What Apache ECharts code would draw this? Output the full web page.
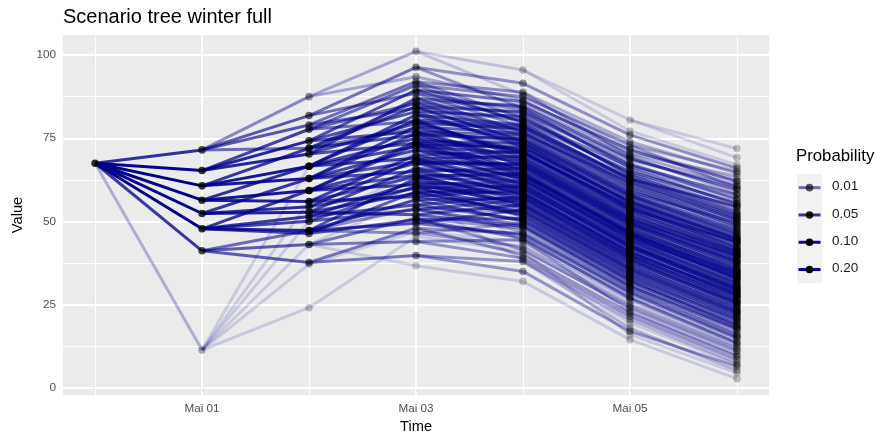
<!DOCTYPE html>
<html>
<head>
<meta charset="utf-8">
<script src="https://cdn.jsdelivr.net/npm/echarts@6/dist/echarts.min.js"></script>
<style>
  html, body { margin: 0; padding: 0; background: #ffffff; }
  #chart { width: 877px; height: 436px; }
</style>
</head>
<body>
<div id="chart"></div>
<script>
// ---- Stages of the tree (x = day offset from the first stage) ----
const stageNames = ['Apr 30', 'Mai 01', 'Mai 02', 'Mai 03', 'Mai 04', 'Mai 05', 'Mai 06'];
const xTickStages = ['Mai 01', 'Mai 03', 'Mai 05'];
const yTicks = [0, 25, 50, 75, 100];
const yMinorTicks = [12.5, 37.5, 62.5, 87.5];

// ---- Node values; each inner list holds the children of one node of the previous stage ----
const rootValue = 67.5;

const mai01 = [[71.5, 65.3, 60.7, 56.4, 52.4, 47.8, 41.2, 11.4]];
const mai01Prob = [[0.05, 0.15, 0.20, 0.20, 0.158, 0.20, 0.04, 0.002]];

const mai02 = [
  [87.5, 81.8, 79.0, 72.0],
  [77.7, 74.2, 70.3],
  [72.0, 66.6, 62.9],
  [66.6, 59.3, 56.0],
  [62.9, 54.4, 52.8],
  [59.3, 51.5, 50.1, 47.3, 46.4],
  [47.3, 43.1, 37.7],
  [66.6, 56.0, 50.1, 43.1, 37.2, 24.1]
];
const mai02Prob = [
  [0.005, 0.017, 0.018, 0.01],
  [0.03, 0.06, 0.06],
  [0.04, 0.08, 0.08],
  [0.05, 0.08, 0.07],
  [0.04, 0.05, 0.068],
  [0.04, 0.04, 0.03, 0.06, 0.03],
  [0.01, 0.015, 0.015],
  [0.0003, 0.0003, 0.0003, 0.0003, 0.0004, 0.0004]
];

const mai03 = [
  [101.1, 93.5], [96.3, 88.5], [92.0, 84.0], [86.0, 78.0],
  [91.0, 85.5, 80.0], [89.5, 83.0, 77.0], [87.0, 79.5, 73.5],
  [84.5, 76.0], [82.0, 75.0, 69.0], [78.5, 71.5, 65.0],
  [80.5, 72.5], [74.0, 67.5, 61.0], [70.0, 63.5, 57.5],
  [76.5, 68.0], [68.5, 60.0], [66.0, 58.5, 52.0],
  [73.0, 64.0], [62.0, 55.0], [60.5, 53.5], [63.0, 56.5, 49.5], [59.0, 50.5],
  [54.0, 46.5], [51.0, 44.0], [48.0, 39.8],
  [81.0], [71.0], [64.5], [57.0, 36.7], [47.0], [45.5]
];

const mai04 = [
  [95.5, 88.0], [86.5], [91.5, 84.0], [83.5, 78.5], [88.8, 81.0], [80.5, 74.5],
  [85.0, 76.5], [73.0, 66.5], [87.5, 79.5], [82.5, 75.5], [77.5, 70.0], [86.0, 80.0],
  [81.5, 72.5], [76.0, 68.5], [84.5, 77.0], [78.0, 71.0], [72.0, 64.0], [83.0, 74.0],
  [75.0, 67.0], [79.0, 73.5], [71.5, 65.5], [69.5, 61.5], [76.5, 70.5], [68.0, 62.5],
  [66.0, 58.5], [78.5, 69.0], [70.5, 63.5], [73.5, 65.0], [67.5, 60.0], [62.0, 55.5],
  [71.0, 63.0], [64.5, 57.0], [59.5, 52.0], [74.5, 68.0], [66.5, 59.0], [67.0, 61.0],
  [61.0, 54.0], [64.0, 58.0], [60.5, 53.0], [55.0, 48.5], [72.5, 64.5], [63.5, 56.0],
  [60.0, 54.5], [57.5, 50.5], [58.0, 51.5], [56.5, 49.0], [62.5, 55.0], [57.0, 50.0],
  [53.5, 46.0], [58.5, 52.5], [51.0, 45.0], [53.0, 47.0], [49.5, 42.5], [48.0, 41.5],
  [44.5, 39.0], [46.5, 40.0], [38.0, 35.0],
  [82.0], [69.0], [43.5], [38.5], [32.0], [44.0], [41.0]
];

const mai05 = [
  [80.5, 77.2], [72.0], [70.5], [76.0], [66.0], [68.5], [61.0], [74.0, 69.5], [64.5], [66.5],
  [57.0], [70.0], [59.5], [55.0], [49.5], [73.0], [62.5], [67.5, 63.5], [58.0], [60.5],
  [52.5], [71.5], [65.0], [64.0], [54.5], [59.0], [51.0], [69.0], [60.0], [62.0],
  [53.5], [56.0], [46.5], [67.0], [57.5], [58.5], [50.0], [63.0], [55.5], [54.0],
  [48.0], [52.0], [44.0], [61.5], [53.0], [50.5], [45.5], [49.0], [41.0], [62.8],
  [51.5], [54.8], [46.0], [56.5], [47.5], [49.8], [42.5], [45.0], [38.0], [53.8],
  [44.8], [47.0], [39.5], [42.0], [34.0], [57.8], [50.8], [48.5], [40.5], [49.3],
  [43.5], [43.0], [36.0], [46.8], [40.0], [42.8], [35.0], [37.5], [30.5], [55.8],
  [46.3], [45.8], [38.5], [42.3], [36.5], [39.8], [32.5], [40.8], [33.5], [38.8],
  [31.0], [44.3], [37.0], [39.0], [32.0], [35.5], [28.5], [41.5], [34.5], [33.0],
  [27.0], [35.8], [29.5], [31.8], [25.0], [30.0], [24.0], [27.5, 23.0], [21.5], [29.0],
  [22.5], [20.5, 18.0], [17.0], [65.5], [52.8], [26.0], [19.5], [14.5], [26.5], [24.5, 16.0]
];

const mai06 = [
  [71.9, 69.2], [67.0], [62.5], [63.5], [66.0], [55.0], [60.5], [49.0], [64.5], [58.5],
  [54.0], [57.0], [45.5], [61.0], [48.0], [43.0], [37.5], [65.0, 60.0], [51.5], [56.5],
  [52.5], [47.0], [50.0], [40.5], [62.0], [55.5], [53.0], [42.0], [49.5], [39.0],
  [59.5], [48.5], [51.0], [41.5], [44.5], [34.0], [58.0], [46.0], [47.5], [38.0],
  [52.0], [44.0], [42.5], [35.5], [40.0], [31.5], [50.5], [41.0], [39.5], [33.0],
  [37.0], [28.0], [54.5], [40.8], [43.5], [34.5], [45.0], [36.0], [38.5], [30.0],
  [33.5], [25.5], [43.8], [32.5], [35.0], [27.0], [29.5], [21.0], [46.5], [39.8],
  [36.5], [28.5], [37.8], [31.0], [30.5], [23.0], [34.8], [27.5], [29.8], [22.0],
  [24.5], [17.5], [44.8], [33.8], [32.8], [25.0], [29.0], [23.5], [26.5], [19.0],
  [27.8], [20.0], [25.8], [18.0], [31.8], [24.0], [26.0], [18.5], [22.5], [15.0],
  [28.8], [21.5], [20.5], [13.5], [22.8], [16.0], [19.5], [12.0], [16.5], [11.0],
  [14.0], [10.0], [8.5], [15.5], [9.5], [7.5], [5.3], [6.5], [56.0], [41.8],
  [12.5], [7.0], [2.8], [13.0], [11.5], [4.5]
];

// ---- Probability legend ----
const legendBreaks = [0.01, 0.05, 0.10, 0.20];
const legendLabels = ['0.01', '0.05', '0.10', '0.20'];

// ---- Styling: opacity by probability (log scale anchors) ----
const NAVY = '0,0,139';
const alphaAnchors = [0.001, 0.01, 0.05, 0.10, 0.20];
const lineAlphaAt = [0.14, 0.55, 0.80, 0.95, 1.0];
const pointAlphaAt = [0.28, 0.64, 0.88, 1.0, 1.0];
const FONT = '"Liberation Sans", Arial, Helvetica, sans-serif';

function alphaFor(p, table) {
  const lx = alphaAnchors.map(Math.log10);
  const l = Math.log10(p);
  if (l <= lx[0]) return table[0];
  for (let i = 0; i < lx.length - 1; i++) {
    if (l <= lx[i + 1]) {
      const t = (l - lx[i]) / (lx[i + 1] - lx[i]);
      return table[i] + t * (table[i + 1] - table[i]);
    }
  }
  return table[table.length - 1];
}

// ---- Build the tree: every node knows its value, probability and parent value ----
const levelGroups = [mai01, mai02, mai03, mai04, mai05, mai06];
const levelProbs = [mai01Prob, mai02Prob, null, null, null, null];
const levels = [[{ v: rootValue, p: 1, parentV: null }]];
levelGroups.forEach((groups, k) => {
  const prev = levels[levels.length - 1];
  if (groups.length !== prev.length) console.warn('stage', k + 1, 'group count', groups.length, 'vs', prev.length);
  const cur = [];
  groups.forEach((g, i) => {
    const parent = prev[i];
    g.forEach((v, j) => {
      const p = levelProbs[k] ? levelProbs[k][i][j] : parent.p / g.length;
      cur.push({ v, p, parentV: parent.v });
    });
  });
  levels.push(cur);
});

const edgeData = [];
const pointData = [];
let vMin = Infinity, vMax = -Infinity;
levels.forEach((nodes, x) => {
  nodes.forEach(n => {
    vMin = Math.min(vMin, n.v);
    vMax = Math.max(vMax, n.v);
    if (n.parentV !== null) {
      edgeData.push({
        coords: [[x - 1, n.parentV], [x, n.v]],
        lineStyle: { color: 'rgba(' + NAVY + ',' + alphaFor(n.p, lineAlphaAt).toFixed(3) + ')' }
      });
    }
    pointData.push({
      value: [x, n.v],
      itemStyle: { color: 'rgba(0,0,0,' + alphaFor(n.p, pointAlphaAt).toFixed(3) + ')' }
    });
  });
});

// 5% expansion of the data range on both axes
const xMin = -0.05 * (stageNames.length - 1);
const xMax = (stageNames.length - 1) * 1.05;
const yPad = 0.05 * (vMax - vMin);
const yMin = vMin - yPad;
const yMax = vMax + yPad;

const xMajor = xTickStages.map(s => stageNames.indexOf(s));
const xMinor = stageNames.map((s, i) => i).filter(i => xMajor.indexOf(i) < 0);

// Panel grid lines, drawn as lines in data space
const gridData = [];
yMinorTicks.forEach(y => gridData.push({ coords: [[xMin, y], [xMax, y]], lineStyle: { width: 0.9 } }));
xMinor.forEach(x => gridData.push({ coords: [[x, yMin], [x, yMax]], lineStyle: { width: 0.9 } }));
yTicks.forEach(y => gridData.push({ coords: [[xMin, y], [xMax, y]], lineStyle: { width: 1.8 } }));
xMajor.forEach(x => gridData.push({ coords: [[x, yMin], [x, yMax]], lineStyle: { width: 1.8 } }));

// ---- Legend (ggplot-style keys) ----
const LEG_X = 797, KEY_TOP = 174, KEY_H = 27.3, KEY_W = 25;
const legendGraphics = [
  { type: 'text', left: LEG_X - 1, top: 148, style: { text: 'Probability', font: '16.8px ' + FONT, fill: '#000' } },
  { type: 'rect', shape: { x: LEG_X, y: KEY_TOP, width: KEY_W, height: KEY_H * legendBreaks.length }, style: { fill: '#F2F2F2' } }
];
legendBreaks.forEach((b, i) => {
  const cy = KEY_TOP + KEY_H * (i + 0.5);
  legendGraphics.push({
    type: 'line', shape: { x1: LEG_X + 1.5, y1: cy, x2: LEG_X + KEY_W - 1.5, y2: cy },
    style: { stroke: 'rgba(' + NAVY + ',' + alphaFor(b, lineAlphaAt) + ')', lineWidth: 3 }
  });
  legendGraphics.push({
    type: 'circle', shape: { cx: LEG_X + KEY_W / 2, cy: cy, r: 3.8 },
    style: { fill: 'rgba(0,0,0,' + alphaFor(b, pointAlphaAt) + ')' }
  });
  legendGraphics.push({
    type: 'text', left: LEG_X + 35, top: cy - 8,
    style: { text: legendLabels[i], font: '13.5px ' + FONT, fill: '#1A1A1A' }
  });
});

const chart = echarts.init(document.getElementById('chart'), null, { renderer: 'canvas' });
chart.setOption({
  animation: false,
  backgroundColor: '#ffffff',
  textStyle: { fontFamily: FONT },
  title: {
    text: 'Scenario tree winter full',
    left: 58, top: 2,
    textStyle: { fontSize: 20, fontWeight: 'normal', color: '#000', fontFamily: FONT }
  },
  grid: {
    left: 63, right: 108, top: 35, bottom: 41,
    outerBoundsMode: 'none',
    show: true, backgroundColor: '#EBEBEB', borderWidth: 0
  },
  xAxis: {
    type: 'value', min: xMin, max: xMax,
    name: 'Time', nameLocation: 'middle', nameGap: 23,
    nameTextStyle: { fontSize: 14.7, color: '#000', fontFamily: FONT },
    axisLine: { show: false },
    axisTick: { show: true, customValues: xMajor, length: 3.7, lineStyle: { color: '#333333', width: 1.1 } },
    axisLabel: {
      show: true, customValues: xMajor, margin: 8,
      formatter: v => stageNames[Math.round(v)],
      fontSize: 11.7, color: '#4D4D4D', fontFamily: FONT
    },
    splitLine: { show: false }
  },
  yAxis: {
    type: 'value', min: yMin, max: yMax,
    name: 'Value', nameLocation: 'middle', nameGap: 38, nameRotate: 90,
    nameTextStyle: { fontSize: 14.7, color: '#000', fontFamily: FONT },
    axisLine: { show: false },
    axisTick: { show: true, customValues: yTicks, length: 3.7, lineStyle: { color: '#333333', width: 1.1 } },
    axisLabel: {
      show: true, customValues: yTicks, margin: 7,
      fontSize: 11.7, color: '#4D4D4D', fontFamily: FONT
    },
    splitLine: { show: false }
  },
  graphic: legendGraphics,
  series: [
    {
      name: 'grid', type: 'lines', coordinateSystem: 'cartesian2d', silent: true, z: 1,
      lineStyle: { color: '#FFFFFF', opacity: 1 },
      data: gridData
    },
    {
      name: 'edges', type: 'lines', coordinateSystem: 'cartesian2d', silent: true, z: 2,
      lineStyle: { width: 3, opacity: 1, cap: 'butt' },
      data: edgeData
    },
    {
      name: 'nodes', type: 'scatter', silent: true, z: 3,
      symbol: 'circle', symbolSize: 7.6,
      data: pointData
    }
  ]
});
</script>
</body>
</html>
